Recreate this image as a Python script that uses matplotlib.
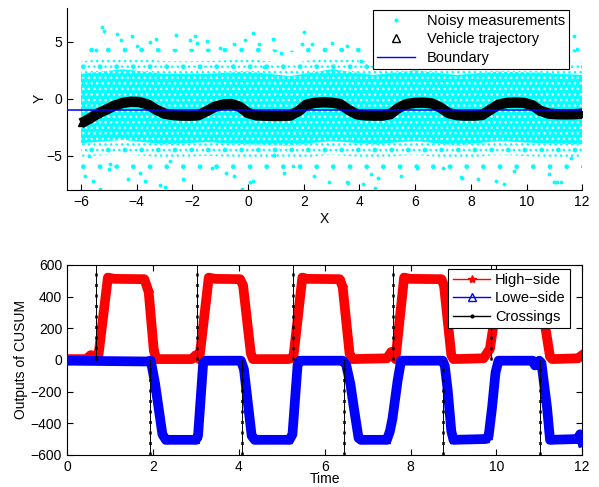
import numpy as np
import matplotlib
matplotlib.use('Agg')
import matplotlib.pyplot as plt
from matplotlib.lines import Line2D

plt.rcParams['font.family'] = ['Liberation Sans', 'DejaVu Sans']
plt.rcParams['font.size'] = 10
plt.rcParams['hatch.linewidth'] = 1.0

CYAN = '#00ffff'

# vehicle trajectory (X, Y)
traj_x = [-6.0, -5.7, -5.4, -5.1, -4.8, -4.5, -4.2, -3.9, -3.6, -3.3, -3.0, -2.7, -2.4, -2.1,
          -1.8, -1.5, -1.2, -0.9, -0.6, -0.3, 0.0, 0.3, 0.6, 0.9, 1.2, 1.5, 1.8, 2.1, 2.4,
          2.7, 3.0, 3.3, 3.6, 3.9, 4.2, 4.5, 4.8, 5.1, 5.4, 5.7, 6.0, 6.3, 6.6, 6.9, 7.2,
          7.5, 7.8, 8.1, 8.4, 8.7, 9.0, 9.3, 9.6, 9.9, 10.2, 10.5, 10.8, 11.1, 11.4, 11.7, 12.0]
traj_y = [-2.15, -1.75, -1.3, -0.95, -0.6, -0.35, -0.25, -0.28, -0.5, -0.95, -1.3, -1.42, -1.47, -1.48,
          -1.45, -1.1, -0.7, -0.5, -0.45, -0.7, -1.25, -1.45, -1.48, -1.5, -1.5, -1.47, -1.1, -0.5, -0.35,
          -0.3, -0.33, -0.45, -0.95, -1.35, -1.45, -1.47, -1.47, -1.35, -0.8, -0.45, -0.35, -0.33, -0.4, -0.75, -1.25,
          -1.43, -1.47, -1.47, -1.42, -0.95, -0.5, -0.35, -0.32, -0.35, -0.55, -1.05, -1.3, -1.35, -1.36, -1.35, -1.3]
boundary_y = -1

# spread of the noisy measurement cloud (outer sparse, middle, dense core)
cloud_x = [-6, -4.5, -3, -1.5, 0, 1.5, 3, 4.5, 6, 7.5, 9, 10.5, 12]
outer_hi = [4.4, 4.8, 4.4, 4.4, 4.6, 4.2, 4.8, 4.3, 4.7, 4.3, 4.6, 4.5, 4.3]
outer_lo = [-6.4, -6.1, -6.4, -6.2, -6.4, -6.5, -6.2, -6.4, -6.1, -6.5, -6.2, -6.3, -6.4]
mid_hi = [3.3, 3.7, 3.3, 3.3, 3.5, 3.1, 3.7, 3.2, 3.6, 3.2, 3.5, 3.4, 3.2]
mid_lo = [-5.1, -4.8, -5.2, -5.0, -5.2, -5.3, -4.9, -5.2, -4.9, -5.3, -4.9, -5.1, -5.2]
core_hi = [2.2, 2.6, 2.2, 2.2, 2.4, 2.0, 2.6, 2.1, 2.5, 2.1, 2.4, 2.3, 2.1]
core_lo = [-3.9, -3.6, -4.0, -3.8, -4.0, -4.1, -3.7, -4.0, -3.7, -4.1, -3.7, -3.9, -4.0]

# stray measurements visible outside the dense cloud
stray_x = [-5.26, -5.16, -4.72, -4.18, -4.56, -3.54, -3.31, -2.1, -1.84, -1.48, -0.49, -0.1, 0.18,
           -5.46, -5.86, -5.56, -5.32, -4.3, -3.88, -3.16, -2.32, -1.3, -0.52, -0.22, 0.08, -5.7,
           -4.96, -2.8, 1.94, 2.3, 3.02, 3.56, 1.19, 4.04, 7.27, 8.11, 11.7, 11.83, 0.56, 2.36,
           3.56, 4.4, 6.08, 7.63, 9.55, 10.99, 11.11, 1.28, 0.92, 11.59, -3.0, 0.19, 3.6, 4.14,
           4.54, 4.67, 7.68, 8.26, 8.91, 11.22, -2.6, -1.0, 0.9, 5.1, 6.6, 8.8, 10.2, -5.0,
           -3.7, -0.8, 1.6, 2.9, 5.5, 7.0, 9.2, 10.8, -4.0, -1.9, 0.4, 2.0, 4.9, 6.9, 8.4, 10.5]
stray_y = [6.35, 6.0, 5.7, 5.55, 5.2, 4.98, 5.27, 5.2, 4.87, 5.07, 4.78, 5.2, 5.78,
           4.27, -6.75, -7.18, -7.9, -7.04, -6.47, -7.6, -7.04, -6.04, -6.75, -7.9, -7.3, -5.04,
           -5.76, -5.47, 4.84, 4.78, 4.87, 4.64, 4.0, 3.36, 3.93, 3.64, 5.5, 4.36, 2.79, -6.75,
           -7.32, -6.6, -6.04, -6.9, -6.32, -7.32, -7.32, -6.47, -4.9, -5.19, -7.7, -7.24, -7.43, -7.5,
           -7.8, -6.96, -6.96, -7.04, -7.25, -7.34, 5.6, 4.5, 5.3, 4.7, 5.8, 4.4, 5.1, -6.2,
           -7.2, -6.5, -5.9, -7.3, -6.8, -6.1, -7.5, -6.6, 4.6, 5.5, 4.8, 5.9, 4.5, 5.2, 4.6, 5.4]

# CUSUM outputs
high_t = [0, 0.45, 0.55, 0.65, 0.72, 0.95, 1.1, 1.8, 1.9, 2.02, 2.08, 2.9, 3.0, 3.08, 3.3, 3.45,
          4.03, 4.1, 4.28, 4.33, 5.15, 5.27, 5.48, 5.6, 6.35, 6.42, 6.58, 6.63, 7.45, 7.55, 7.65,
          7.85, 8.0, 8.72, 8.78, 8.95, 9.0, 9.7, 9.85, 10.1, 10.9, 10.98, 11.25, 11.3, 11.9, 12.0]
high_v = [5, 5, 30, 25, 5, 520, 512, 510, 430, 60, 5, 5, 30, 5, 520, 512,
          510, 470, 40, 5, 5, 15, 520, 512, 510, 460, 40, 5, 10, 50, 5,
          520, 512, 510, 470, 30, 5, 10, 70, 520, 510, 480, 20, 5, 10, 30]
low_t = [0, 1.85, 1.95, 2.05, 2.22, 2.3, 3.0, 3.05, 3.17, 3.22, 4.05, 4.12, 4.3, 4.37, 5.18, 5.25,
         5.37, 5.42, 6.42, 6.5, 6.6, 6.68, 6.79, 6.85, 7.45, 7.52, 7.58, 7.7, 7.78, 8.75, 8.8, 8.87,
         8.95, 9.0, 9.75, 9.82, 9.9, 9.98, 10.05, 10.85, 10.9, 11.0, 11.05, 11.18, 11.25, 11.9, 11.95, 12.0]
low_v = [-5, -10, -5, -150, -470, -505, -505, -480, -20, -5, -5, -60, -480, -505, -505, -470,
         -30, -5, -5, -30, -153, -302, -494, -505, -505, -450, -370, -130, -5, -5, -40, -200,
         -450, -505, -500, -480, -300, -80, -5, -5, -35, -5, -20, -300, -505, -500, -470, -520]
high_cross = [0.68, 3.02, 5.27, 7.59, 9.88]
low_cross = [1.93, 4.07, 6.46, 8.76, 11.02]

fig = plt.figure(figsize=(5.99, 4.87), dpi=100)
ax1 = fig.add_axes([0.112, 0.610, 0.860, 0.374])
ax2 = fig.add_axes([0.112, 0.066, 0.860, 0.390])

# --- top panel: measurement cloud as shaded bands of dots
ax1.fill_between(cloud_x, outer_lo, outer_hi, facecolor='none', edgecolor=CYAN, hatch='.', lw=0, zorder=1)
ax1.fill_between(cloud_x, mid_lo, mid_hi, facecolor='none', edgecolor=CYAN, hatch='...', lw=0, zorder=1)
ax1.fill_between(cloud_x, core_lo, core_hi, facecolor=CYAN, edgecolor='w', hatch='...', lw=0, zorder=1)
ax1.plot(stray_x, stray_y, '.', color=CYAN, ms=3.5, zorder=2)
ax1.plot(traj_x, traj_y, '-', color='k', lw=7.5, solid_capstyle='butt', zorder=3)
ax1.plot(traj_x, traj_y, '^', color='k', ms=5, zorder=3)
ax1.axhline(boundary_y, color='b', lw=1.1, zorder=4)

ax1.set_xlim(-6.5, 12)
ax1.set_ylim(-8, 8)
ax1.set_xticks(range(-6, 13, 2))
ax1.set_yticks([-5, 0, 5])
ax1.spines['top'].set_visible(False)
ax1.spines['right'].set_visible(False)
ax1.tick_params(direction='in', length=4)
ax1.set_xlabel('X', labelpad=2)
ax1.set_ylabel('Y', labelpad=0)

h1 = [Line2D([], [], ls='none', marker='.', color=CYAN, ms=4),
      Line2D([], [], ls='none', marker='^', mfc='none', mec='k', ms=6),
      Line2D([], [], color='b', lw=1)]
leg1 = ax1.legend(h1, ['Noisy measurements', 'Vehicle trajectory', 'Boundary'],
                  loc='upper right', bbox_to_anchor=(0.975, 0.99), borderaxespad=0,
                  fancybox=False, framealpha=1, edgecolor='k', handlelength=2.6,
                  labelspacing=0.3, borderpad=0.3, fontsize=10.5)
leg1.get_frame().set_linewidth(0.8)

# --- bottom panel
ax2.plot(high_t, high_v, '-*', color='r', lw=7, ms=6, solid_joinstyle='round', zorder=2)
ax2.plot(low_t, low_v, '-^', color='b', lw=7, ms=5, solid_joinstyle='round', zorder=3)
ax2.vlines(high_cross, 0, 600, colors='k', lw=0.7, zorder=4)
ax2.vlines(low_cross, -600, 0, colors='k', lw=0.7, zorder=4)
ax2.vlines(high_cross, 0, 600, colors='k', lw=1.8, linestyles=(0, (1.2, 3)), zorder=4)
ax2.vlines(low_cross, -600, 0, colors='k', lw=1.8, linestyles=(0, (1.2, 3)), zorder=4)

ax2.set_xlim(0, 12)
ax2.set_ylim(-600, 600)
ax2.set_xticks(range(0, 13, 2))
ax2.set_yticks(range(-600, 601, 200))
ax2.tick_params(direction='in', length=4, top=True, right=True)
ax2.set_xlabel('Time', labelpad=-1)
ax2.set_ylabel('Outputs of CUSUM', labelpad=2)

h2 = [Line2D([], [], color='r', marker='*', ms=6, lw=1),
      Line2D([], [], color='b', marker='^', mfc='none', ms=6, lw=1),
      Line2D([], [], color='k', marker='.', ms=4, lw=1)]
leg2 = ax2.legend(h2, ['High\u2212side', 'Lowe\u2212side', 'Crossings'],
                  loc='upper right', bbox_to_anchor=(0.976, 0.98), borderaxespad=0,
                  fancybox=False, framealpha=1, edgecolor='k', handlelength=2.6,
                  labelspacing=0.3, borderpad=0.3, handletextpad=0.3, fontsize=10.5)
leg2.get_frame().set_linewidth(0.8)

fig.savefig('out.png', dpi=100)
